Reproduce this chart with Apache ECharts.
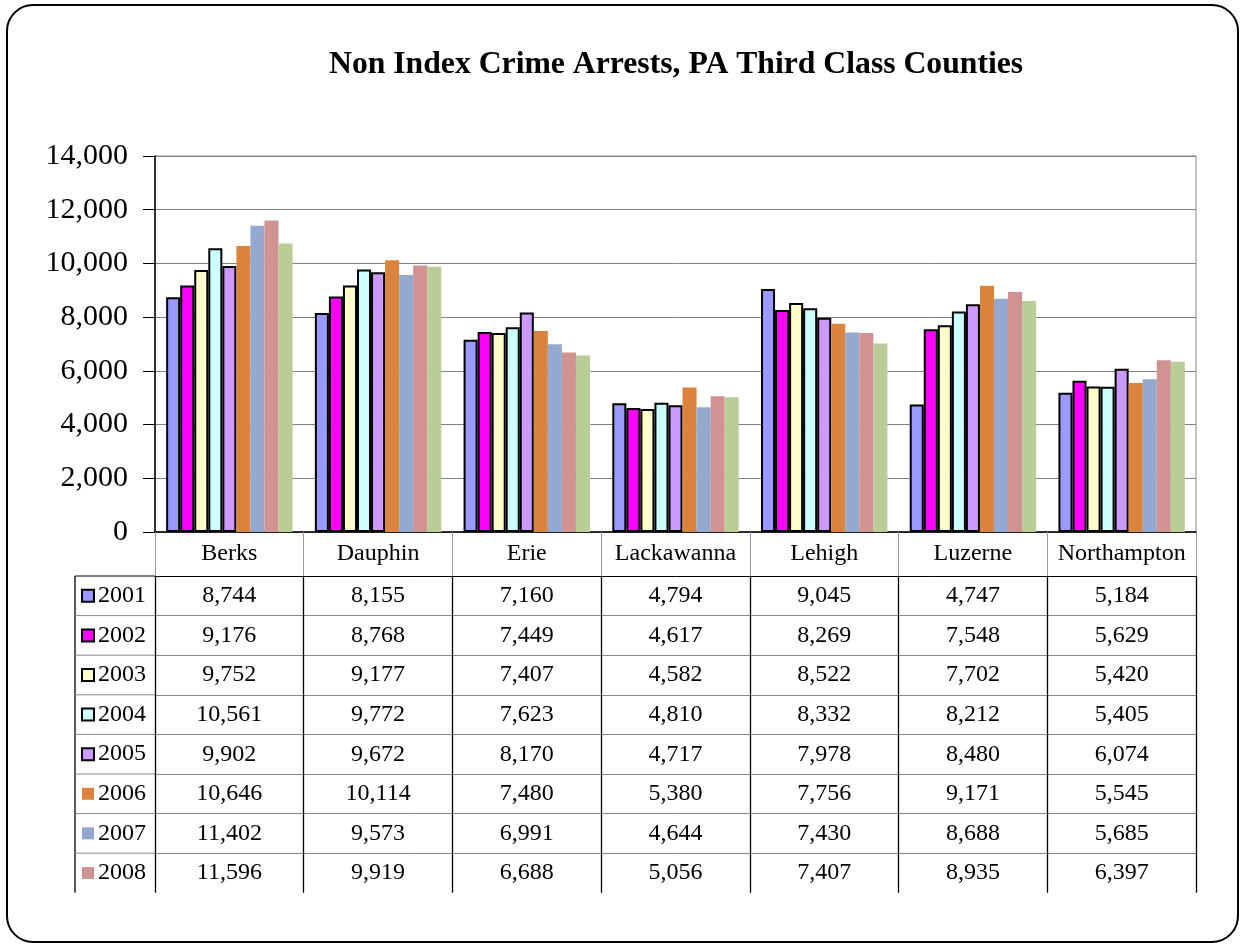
<!DOCTYPE html>
<html>
<head>
<meta charset="utf-8">
<script src="https://cdn.jsdelivr.net/npm/echarts@6/dist/echarts.min.js"></script>
<style>
html,body{margin:0;padding:0;background:#fff;}
#chart{width:1244px;height:947px;}
</style>
</head>
<body>
<div id="chart"></div>
<script>
// ---- data ----
const categories = ['Berks', 'Dauphin', 'Erie', 'Lackawanna', 'Lehigh', 'Luzerne', 'Northampton'];
const years = ['2001', '2002', '2003', '2004', '2005', '2006', '2007', '2008', '2009'];
const v2001 = [8744, 8155, 7160, 4794, 9045, 4747, 5184];
const v2002 = [9176, 8768, 7449, 4617, 8269, 7548, 5629];
const v2003 = [9752, 9177, 7407, 4582, 8522, 7702, 5420];
const v2004 = [10561, 9772, 7623, 4810, 8332, 8212, 5405];
const v2005 = [9902, 9672, 8170, 4717, 7978, 8480, 6074];
const v2006 = [10646, 10114, 7480, 5380, 7756, 9171, 5545];
const v2007 = [11402, 9573, 6991, 4644, 7430, 8688, 5685];
const v2008 = [11596, 9919, 6688, 5056, 7407, 8935, 6397];
const v2009 = [10740, 9880, 6570, 5020, 7020, 8600, 6340]; // estimated from bars (not in table)
const tableYears = ['2001', '2002', '2003', '2004', '2005', '2006', '2007', '2008'];
const yTicks = [0, 2000, 4000, 6000, 8000, 10000, 12000, 14000];

const seriesValues = [v2001, v2002, v2003, v2004, v2005, v2006, v2007, v2008, v2009];
const colors = ['#9999FF', '#FF00FF', '#FFFFCC', '#CCFFFF', '#CC99FF', '#DB843D', '#93A9CF', '#D19392', '#B9CD96'];
const bordered = [true, true, true, true, true, false, false, false, false];

// ---- layout ----
const FONT = 'Liberation Serif, Times New Roman, serif';
const gLeft = 155, gRight = 1196, gTop = 156, gBottom = 532;
const headerH = 44, rowH = 39.6, tableLeft = 75;
const TFS = 24; // table font size

const fmt = v => v.toLocaleString('en-US');

const chart = echarts.init(document.getElementById('chart'), null, {renderer: 'canvas'});

const xAxes = [{
  type: 'category', data: categories, gridIndex: 0, position: 'bottom',
  axisLine: {show: true, lineStyle: {color: '#000', width: 1.5}},
  axisTick: {show: true, interval: 0, length: headerH, lineStyle: {color: '#999', width: 1}},
  axisLabel: {interval: 0, fontFamily: FONT, fontSize: TFS, color: '#000', margin: 10, lineHeight: TFS},
  splitLine: {show: false}
}];
tableYears.forEach((y, r) => {
  const vals = seriesValues[r].map(fmt);
  xAxes.push({
    type: 'category', data: vals, gridIndex: 0, position: 'bottom',
    offset: headerH + r * rowH,
    axisLine: {show: true, onZero: false, lineStyle: {color: r === 0 ? '#000' : '#888', width: 1}},
    axisTick: {show: true, interval: 0, length: rowH, lineStyle: {color: '#000', width: 1.3}},
    axisLabel: {interval: 0, fontFamily: FONT, fontSize: TFS, color: '#000', margin: 8, lineHeight: TFS},
    splitLine: {show: false}
  });
});

const series = years.map((y, i) => ({
  name: y, type: 'bar', xAxisIndex: 0, yAxisIndex: 0,
  data: seriesValues[i],
  barGap: '0%', barCategoryGap: '15%',
  itemStyle: bordered[i]
    ? {color: colors[i], borderColor: '#000', borderWidth: 2}
    : {color: colors[i], borderWidth: 0},
  emphasis: {disabled: true}
}));

const graphics = [
  {type: 'rect', shape: {x: 7, y: 5, width: 1231, height: 937, r: 26},
   style: {fill: 'none', stroke: '#000', lineWidth: 2}, z: 100}
];
// legend-column borders of the data table
graphics.push({type: 'line', shape: {x1: tableLeft, y1: gBottom + headerH, x2: tableLeft, y2: gBottom + headerH + tableYears.length * rowH},
  style: {stroke: '#000', lineWidth: 1.3}});
tableYears.forEach((y, r) => {
  const yy = gBottom + headerH + r * rowH;
  graphics.push({type: 'line', shape: {x1: tableLeft, y1: yy, x2: gLeft, y2: yy},
    style: {stroke: r === 0 ? '#000' : '#888', lineWidth: 1}});
});

const option = {
  animation: false,
  backgroundColor: '#fff',
  color: colors,
  title: {
    text: 'Non Index Crime Arrests, PA Third Class Counties',
    left: 324, top: 44,
    textStyle: {fontFamily: FONT, fontSize: 31.7, fontWeight: 'bold', color: '#000'}
  },
  legend: {
    data: tableYears,
    orient: 'vertical', left: 81, top: gBottom + headerH + rowH / 2 - TFS / 2,
    padding: 0, itemWidth: 12, itemHeight: 12, itemGap: rowH - TFS,
    icon: 'rect', selectedMode: false,
    textStyle: {fontFamily: FONT, fontSize: TFS, color: '#000', lineHeight: TFS, padding: [0, 0, 0, -1]}
  },
  grid: {
    left: gLeft, top: gTop, width: gRight - gLeft, height: gBottom - gTop,
    show: true, borderColor: '#888', borderWidth: 1, backgroundColor: 'transparent'
  },
  xAxis: xAxes,
  yAxis: {
    type: 'value', min: 0, max: 14000, interval: 2000,
    axisLine: {show: true, lineStyle: {color: '#000', width: 1.5}},
    axisTick: {show: true, length: 12, lineStyle: {color: '#000', width: 1}},
    axisLabel: {
      fontFamily: FONT, fontSize: 30, color: '#000', margin: 27,
      formatter: v => yTicks.includes(v) ? fmt(v) : ''
    },
    splitLine: {show: true, lineStyle: {color: '#808080', width: 1}}
  },
  series: series,
  graphic: graphics
};
chart.setOption(option);
</script>
</body>
</html>
